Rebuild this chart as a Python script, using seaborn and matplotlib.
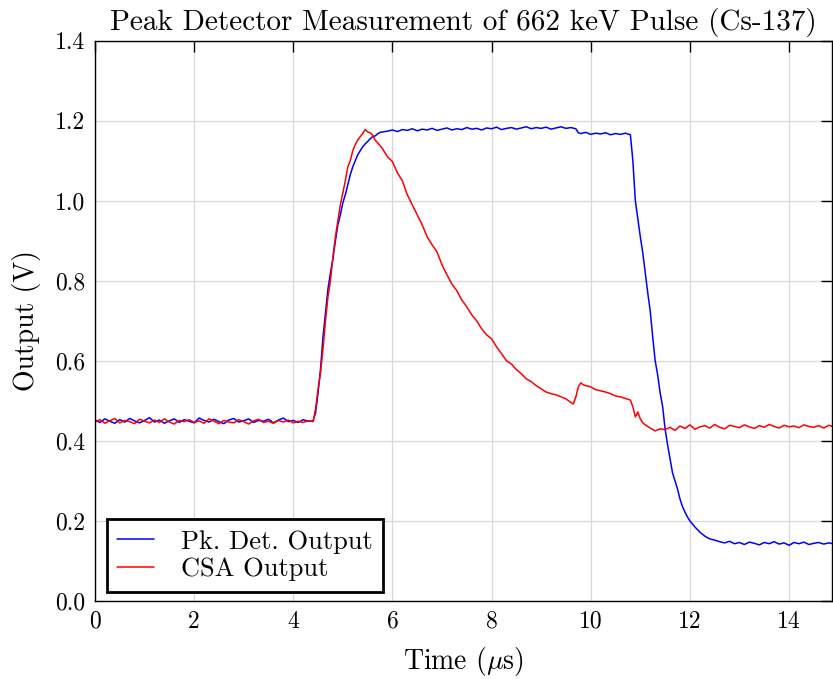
import numpy as np
import pandas as pd
import matplotlib
matplotlib.use("Agg")
import matplotlib.pyplot as plt
import seaborn as sns

# ---------------- data ----------------
t_pk_base = [round(0.1 * i, 2) for i in range(45)]
v_pk_base = [0.452, 0.446, 0.455, 0.449, 0.444, 0.453, 0.447, 0.456, 0.450, 0.445,
             0.451, 0.458, 0.447, 0.452, 0.444, 0.450, 0.455, 0.446, 0.453, 0.449,
             0.445, 0.457, 0.451, 0.447, 0.454, 0.448, 0.443, 0.452, 0.456, 0.447,
             0.450, 0.455, 0.446, 0.451, 0.449, 0.454, 0.445, 0.452, 0.457, 0.448,
             0.451, 0.446, 0.453, 0.449, 0.450]
t_pk_rise = [4.45, 4.5, 4.55, 4.6, 4.65, 4.7, 4.75, 4.8, 4.85, 4.9, 4.95, 5.0, 5.05,
             5.1, 5.15, 5.2, 5.25, 5.3, 5.35, 5.4, 5.45, 5.5, 5.55, 5.6, 5.65, 5.7,
             5.75, 5.8]
v_pk_rise = [0.47, 0.52, 0.58, 0.66, 0.72, 0.78, 0.82, 0.855, 0.90, 0.94, 0.965, 0.995,
             1.015, 1.04, 1.065, 1.085, 1.10, 1.115, 1.125, 1.135, 1.142, 1.148, 1.155,
             1.16, 1.162, 1.167, 1.171, 1.172]
t_pk_top = [round(5.9 + 0.1 * i, 2) for i in range(39)]
v_pk_top = [1.174, 1.177, 1.173, 1.178, 1.176, 1.180, 1.175, 1.179, 1.177, 1.181,
            1.176, 1.179, 1.182, 1.177, 1.180, 1.178, 1.183, 1.179, 1.181, 1.177,
            1.182, 1.180, 1.184, 1.178, 1.181, 1.183, 1.179, 1.182, 1.185, 1.180,
            1.183, 1.181, 1.184, 1.179, 1.182, 1.185, 1.181, 1.183, 1.180]
t_pk_step = [9.75, 9.8, 9.9, 10.0, 10.1, 10.2, 10.3, 10.4, 10.5, 10.6, 10.7, 10.8]
v_pk_step = [1.170, 1.168, 1.171, 1.166, 1.169, 1.167, 1.170, 1.165, 1.168, 1.166,
             1.169, 1.165]
t_pk_fall = [10.85, 10.9, 10.95, 11.0, 11.05, 11.1, 11.15, 11.2, 11.25, 11.3, 11.35,
             11.4, 11.45, 11.5, 11.55, 11.6, 11.65, 11.7, 11.75, 11.8, 11.85, 11.9,
             11.95, 12.0, 12.1, 12.2, 12.3, 12.4, 12.5]
v_pk_fall = [1.10, 1.00, 0.955, 0.91, 0.87, 0.82, 0.77, 0.725, 0.66, 0.60, 0.565,
             0.52, 0.486, 0.43, 0.39, 0.355, 0.32, 0.30, 0.28, 0.255, 0.236, 0.222,
             0.21, 0.20, 0.185, 0.172, 0.162, 0.155, 0.152]
t_pk_tail = [round(12.6 + 0.1 * i, 2) for i in range(24)]
v_pk_tail = [0.148, 0.145, 0.149, 0.143, 0.146, 0.141, 0.147, 0.144, 0.140, 0.146,
             0.143, 0.148, 0.142, 0.145, 0.139, 0.146, 0.143, 0.147, 0.141, 0.144,
             0.146, 0.142, 0.145, 0.143]

t_csa_base = [round(0.1 * i, 2) for i in range(45)]
v_csa_base = [0.447, 0.453, 0.444, 0.450, 0.456, 0.445, 0.451, 0.448, 0.443, 0.454,
              0.449, 0.445, 0.452, 0.446, 0.455, 0.447, 0.442, 0.451, 0.448, 0.453,
              0.446, 0.450, 0.444, 0.455, 0.449, 0.443, 0.451, 0.447, 0.445, 0.453,
              0.448, 0.442, 0.450, 0.454, 0.446, 0.449, 0.444, 0.451, 0.447, 0.452,
              0.445, 0.449, 0.446, 0.450, 0.448]
t_csa_rise = [4.45, 4.5, 4.55, 4.6, 4.65, 4.7, 4.75, 4.8, 4.85, 4.9, 4.95, 5.0, 5.05,
              5.1, 5.15, 5.2, 5.25, 5.3, 5.35, 5.4, 5.45, 5.5, 5.55, 5.6, 5.65, 5.7,
              5.75, 5.8, 5.85, 5.9]
v_csa_rise = [0.48, 0.53, 0.57, 0.63, 0.70, 0.76, 0.80, 0.86, 0.91, 0.95, 0.99, 1.02,
              1.05, 1.085, 1.10, 1.125, 1.14, 1.152, 1.16, 1.168, 1.178, 1.172, 1.17,
              1.165, 1.152, 1.145, 1.138, 1.13, 1.12, 1.11]
t_csa_decay = [6.0, 6.1, 6.2, 6.3, 6.4, 6.5, 6.6, 6.7, 6.8, 6.9, 7.0, 7.1, 7.2, 7.3,
               7.4, 7.5, 7.6, 7.7, 7.8, 7.9, 8.0, 8.1, 8.2, 8.3, 8.4, 8.5, 8.6, 8.7,
               8.8, 8.9, 9.0, 9.1, 9.2, 9.3, 9.4, 9.5, 9.6, 9.65, 9.7, 9.75, 9.8, 9.85,
               9.9, 10.0, 10.1, 10.2, 10.3, 10.4, 10.5, 10.6, 10.7, 10.8, 10.85, 10.9,
               10.95, 11.0, 11.05, 11.1, 11.2, 11.3, 11.4]
v_csa_decay = [1.098, 1.07, 1.05, 1.015, 0.99, 0.965, 0.94, 0.91, 0.89, 0.872, 0.84,
               0.815, 0.792, 0.775, 0.752, 0.735, 0.715, 0.70, 0.68, 0.665, 0.655,
               0.635, 0.618, 0.60, 0.592, 0.578, 0.568, 0.555, 0.548, 0.538, 0.53,
               0.522, 0.518, 0.515, 0.51, 0.505, 0.496, 0.492, 0.51, 0.535, 0.545,
               0.54, 0.538, 0.535, 0.528, 0.525, 0.522, 0.518, 0.512, 0.51, 0.506,
               0.502, 0.485, 0.46, 0.472, 0.455, 0.445, 0.44, 0.432, 0.425, 0.43]
t_csa_tail = [round(11.5 + 0.1 * i, 2) for i in range(35)]
v_csa_tail = [0.428, 0.434, 0.426, 0.437, 0.431, 0.440, 0.429, 0.435, 0.438, 0.432,
              0.441, 0.434, 0.430, 0.439, 0.436, 0.433, 0.440, 0.435, 0.431, 0.438,
              0.434, 0.441, 0.436, 0.432, 0.439, 0.435, 0.437, 0.433, 0.440, 0.436,
              0.434, 0.438, 0.432, 0.439, 0.435]

series_names = ["Pk. Det. Output", "CSA Output"]
series_colors = ["blue", "red"]
x_ticks = [0, 2, 4, 6, 8, 10, 12, 14]
y_ticks = [0.0, 0.2, 0.4, 0.6, 0.8, 1.0, 1.2, 1.4]

t_pk = t_pk_base + t_pk_rise + t_pk_top + t_pk_step + t_pk_fall + t_pk_tail
v_pk = v_pk_base + v_pk_rise + v_pk_top + v_pk_step + v_pk_fall + v_pk_tail
t_csa = t_csa_base + t_csa_rise + t_csa_decay + t_csa_tail
v_csa = v_csa_base + v_csa_rise + v_csa_decay + v_csa_tail

df = pd.concat([
    pd.DataFrame({"t": t_pk, "v": v_pk, "series": series_names[0]}),
    pd.DataFrame({"t": t_csa, "v": v_csa, "series": series_names[1]}),
], ignore_index=True)

# ---------------- style ----------------
sns.set_style("white")
plt.rcParams["font.family"] = ["cmr10", "DejaVu Serif"]
plt.rcParams["mathtext.fontset"] = "cm"
plt.rcParams["axes.formatter.use_mathtext"] = True
plt.rcParams["axes.unicode_minus"] = False
plt.rcParams["text.color"] = "black"
plt.rcParams["axes.labelcolor"] = "black"

fig = plt.figure(figsize=(8.33, 6.79), dpi=100)
ax = fig.add_axes([0.114, 0.115, 0.885, 0.825])

sns.lineplot(data=df, x="t", y="v", hue="series", palette=series_colors,
             hue_order=series_names, sort=False, estimator=None, ax=ax,
             linewidth=1.1)

ax.set_xlim(0, 14.87)
ax.set_ylim(0, 1.4)
ax.set_xticks(x_ticks)
ax.set_yticks(y_ticks)
ax.set_xticklabels([str(v) for v in x_ticks])
ax.set_yticklabels([f"{v:.1f}" for v in y_ticks])
ax.grid(True, color="#d8d8d8", linewidth=0.9)
ax.set_axisbelow(True)
for s in ax.spines.values():
    s.set_visible(True)
    s.set_color("black")
    s.set_linewidth(1.0)
ax.tick_params(direction="in", length=8, width=1, top=True, right=True,
               labelsize=17, colors="black", pad=7)

ax.set_title("Peak Detector Measurement of 662 keV Pulse (Cs-137)", fontsize=21, pad=8,
             color="black")
ax.set_xlabel(r"Time ($\mu$s)", fontsize=20, labelpad=9)
ax.set_ylabel("Output (V)", fontsize=20, labelpad=10)

leg = ax.legend(loc="lower left", bbox_to_anchor=(0.016, 0.016), borderaxespad=0,
                fontsize=19, frameon=True, fancybox=False,
                handlelength=1.4, handletextpad=1.0, labelspacing=0.15,
                borderpad=0.4)
leg.get_frame().set_edgecolor("black")
leg.get_frame().set_linewidth(2.0)
leg.get_frame().set_alpha(1)
for txt in leg.get_texts():
    txt.set_color("black")

fig.savefig("out.png", dpi=100)
